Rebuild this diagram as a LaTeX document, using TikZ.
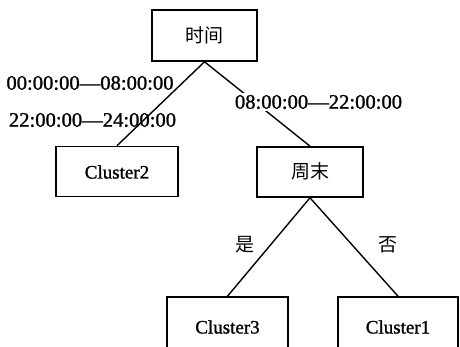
\documentclass[tikz,border=0pt]{standalone}
\usepackage{fontspec}
\setmainfont{Liberation Serif}[FakeBold=1.2]
\newfontfamily\cjk{Noto Sans CJK SC}
\begin{document}
\begin{tikzpicture}[x=1pt,y=-1pt,
  box/.style={draw=black,line width=1.6pt,rectangle,inner sep=0pt},
  edge/.style={line width=1.4pt},
  lbl/.style={font=\fontsize{19}{22}\selectfont,inner sep=1pt},
  tlbl/.style={font=\fontsize{20.6}{24}\selectfont,inner sep=1pt}]
\useasboundingbox (0,0) rectangle (460,347);
\clip (0,0) rectangle (460,347);
% boxes
\node[box,minimum width=105pt,minimum height=51pt] (root) at (204.5,35.5) {};
\node[lbl] at (204.5,35.5) {\cjk 时间};
\node[box,minimum width=122pt,minimum height=50pt] (c2) at (117,171.5) {};
\node[lbl] at (117,172) {Cluster2};
\node[box,minimum width=106pt,minimum height=50pt] (wk) at (310,172) {};
\node[lbl] at (310,171) {\cjk 周末};
\node[box,minimum width=121pt,minimum height=64pt] (c3) at (227.5,329) {};
\node[lbl] at (227.5,327) {Cluster3};
\node[box,minimum width=120pt,minimum height=64pt] (c1) at (398,329) {};
\node[lbl] at (398,327) {Cluster1};
% edges
\draw[edge] (root.south) -- (c2.north);
\draw[edge] (root.south) -- (wk.north);
\draw[edge] (wk.south) -- (c3.north);
\draw[edge] (wk.south) -- (c1.north);
% labels
\node[tlbl] (l1) at (90,83) {00:00:00---08:00:00};
\node[tlbl] (l2) at (92.5,120) {22:00:00---24:00:00};
\node[tlbl,fill=white,inner sep=2pt] (l3) at (318.5,102) {08:00:00---22:00:00};
\node[lbl] (l4) at (245,245) {\cjk 是};
\node[lbl] (l5) at (388,245) {\cjk 否};
\end{tikzpicture}
\end{document}
